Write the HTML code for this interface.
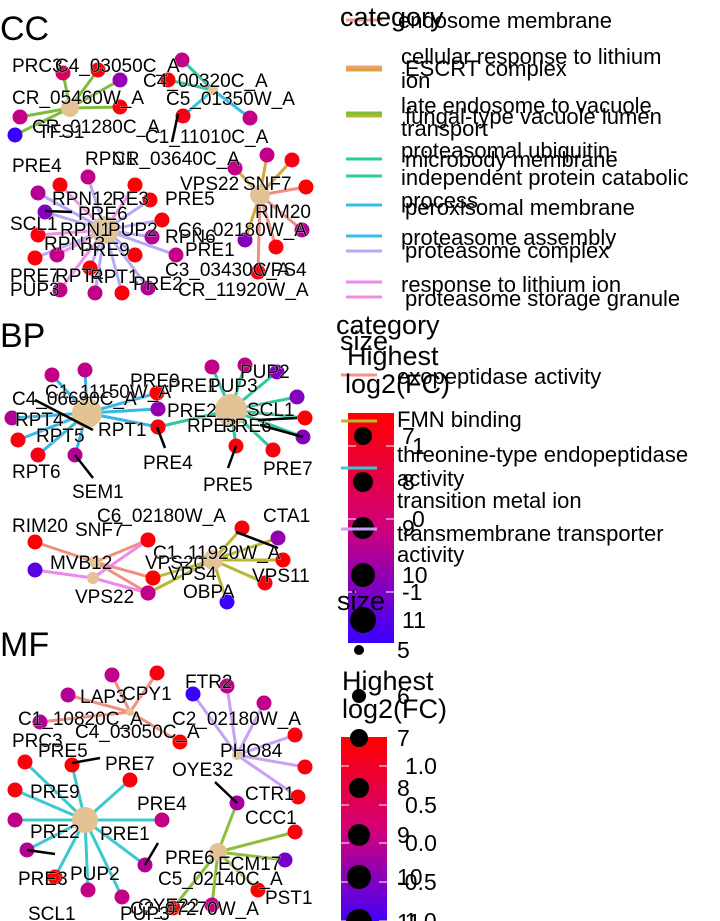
<!DOCTYPE html>
<html><head><meta charset="utf-8"><style>
html,body{margin:0;padding:0;background:#fff;}
svg{display:block;font-family:"Liberation Sans",sans-serif;}
</style></head><body>
<svg id="chart" width="720" height="921" viewBox="0 0 720 921">
<defs>
<linearGradient id="cg" x1="0" y1="0" x2="0" y2="1"><stop offset="0" stop-color="#ff0000"/><stop offset="0.5" stop-color="#d0007a"/><stop offset="1" stop-color="#3a00ff"/></linearGradient>
</defs>
</svg>
<script>
const ccHubs=[[70,108,9],[213,90,5],[260,195,10],[105,230,14]];
const ccEdges=[
[0,63,73,0.2,'#7CBE3A'],[0,120,80,-0.4,'#7CBE3A'],[0,120,107,0.9,'#7CBE3A'],[0,20,117,-0.1,'#7CBE3A'],[0,15,135,-1,'#7CBE3A'],[0,98,70,0.9,'#7CBE3A'],
[1,182,60,-0.1,'#2CCB9E'],[1,168,80,0.9,'#2CCB9E'],[1,250,118,-0.1,'#35C0E8'],[1,183,116,0.8,'#35C0E8'],
[2,267,155,-0.1,'#D4A838'],[2,292,160,0.8,'#D4A838'],[2,306,187,1,'#F08C80'],[2,235,168,-0.1,'#D4A838'],[2,302,230,-0.2,'#F08C80'],[2,245,240,-0.5,'#D4A838'],[2,276,247,0.9,'#F08C80'],[2,258,272,0.9,'#F08C80'],
[3,60,185,0.9,'#F090E8'],[3,88,177,-0.1,'#B8A8F8'],[3,135,185,1,'#F090E8'],[3,150,200,0.9,'#B8A8F8'],[3,38,193,-0.2,'#B8A8F8'],[3,45,212,-0.5,'#B8A8F8'],[3,38,235,0.9,'#F090E8'],[3,152,237,-0.2,'#B8A8F8'],[3,162,220,0.9,'#B8A8F8'],[3,176,255,-0.1,'#B8A8F8'],[3,35,258,0.9,'#B8A8F8'],[3,57,255,-0.1,'#F090E8'],[3,90,268,0.9,'#B8A8F8'],[3,135,255,0.9,'#B8A8F8'],[3,95,293,-0.1,'#B8A8F8'],[3,122,293,0.9,'#B8A8F8'],[3,148,288,-0.2,'#B8A8F8'],[3,60,290,-0.1,'#F090E8']];
const bpHubs=[[87,413,15],[231,410,16],[95,562,6],[93,578,6],[213,560,10]];
const bpEdges=[
[0,52,375,-0.1,'#35B8E8'],[0,85,370,-0.1,'#35B8E8'],[0,12,418,-0.2,'#35B8E8'],[0,18,440,0.9,'#35B8E8'],[0,38,455,0.8,'#35B8E8'],[0,75,455,-0.2,'#35B8E8'],[0,158,409,-0.4,'#35B8E8'],[0,158,427,0.9,'#35B8E8'],[0,157,393,1,'#35B8E8'],
[1,212,367,-0.1,'#30C8A0'],[1,245,365,-0.1,'#30C8A0'],[1,277,372,-0.5,'#30C8A0'],[1,297,397,-0.5,'#30C8A0'],[1,305,418,1,'#30C8A0'],[1,303,437,-0.5,'#30C8A0'],[1,273,450,0.9,'#30C8A0'],[1,236,446,0.9,'#30C8A0'],[1,158,427,0.9,'#30C8A0'],
[2,35,542,1,'#F29080'],[2,148,540,0.9,'#F29080'],[2,153,578,1,'#F29080'],[2,148,593,-0.1,'#F29080'],[3,35,570,-0.8,'#EE88EE'],[3,148,540,0.9,'#EE88EE'],[3,148,593,-0.1,'#EE88EE'],
[4,242,528,0.9,'#B8B830'],[4,278,538,-0.4,'#B8B830'],[4,283,560,1,'#B8B830'],[4,265,583,0.9,'#B8B830'],[4,227,602,-1,'#B8B830'],[4,153,578,1,'#B8B830'],[4,148,593,-0.1,'#B8B830']];
const mfHubs=[[85,820,13],[130,712,4],[237,755,5],[218,852,9]];
const mfEdges=[
[0,25,762,0.9,'#3CC8D0'],[0,15,790,0.9,'#3CC8D0'],[0,15,820,-0.1,'#3CC8D0'],[0,27,850,-0.2,'#3CC8D0'],[0,55,877,1,'#3CC8D0'],[0,88,890,-0.1,'#3CC8D0'],[0,122,897,-0.1,'#3CC8D0'],[0,145,865,-0.2,'#3CC8D0'],[0,162,820,-0.1,'#3CC8D0'],[0,130,780,0.9,'#3CC8D0'],[0,72,765,1,'#3CC8D0'],
[1,112,675,-0.1,'#F29080'],[1,157,673,0.9,'#F29080'],[1,68,695,-0.2,'#F29080'],[1,40,722,-0.2,'#F29080'],[1,180,742,1,'#F29080'],
[2,193,694,-1,'#C8A0F8'],[2,227,686,-0.1,'#C8A0F8'],[2,264,703,-0.1,'#C8A0F8'],[2,295,735,0.9,'#C8A0F8'],[2,305,767,0.9,'#C8A0F8'],[2,298,797,0.9,'#C8A0F8'],
[3,237,803,-0.3,'#8DC03A'],[3,295,832,0.9,'#8DC03A'],[3,285,860,-0.6,'#8DC03A'],[3,258,890,1,'#8DC03A'],[3,212,905,-0.1,'#8DC03A'],[3,173,908,1,'#8DC03A']];
const leaders=[[178,114,172,142],[45,211,72,212],[35,400,93,430],[157,427,165,448],[236,446,228,468],[75,455,93,478],[297,418,258,420],[303,437,260,425],[236,532,278,548],[72,763,100,758],[145,865,158,843],[27,850,55,854],[237,803,215,782]];
const ccLabels=[["PRC3",12,72],["C4_03050C_A",55,72],["CR_05460W_A",12,104],["CR_01280C_A",32,133],["TFS1",38,138],["C4_00320C_A",143,87],["C5_01350W_A",166,105],["C1_11010C_A",145,143],["PRE4",12,172],["RPN1",85,165],["CR_03640C_A",112,165],["VPS22",180,190],["SNF7",243,190],["RPN12",52,205],["RE3",112,205],["PRE5",165,205],["PRE6",78,220],["RIM20",255,218],["SCL1",10,230],["RPN1",60,236],["PUP2",108,236],["C6_02180W_A",178,236],["RPN13",44,250],["PRE9",80,256],["RPN6",165,243],["PRE1",185,256],["C3_03430C_A",165,276],["VPS4",258,276],["PRE7",10,282],["RPT4",55,282],["RPT1",90,283],["PRE2",133,290],["PUP3",10,296],["CR_11920W_A",178,296]];
const bpLabels=[["PRE9",130,387],["C1_11150W_A",45,398],["PRE1",168,392],["PUP3",208,392],["PUP2",240,378],["C4_06690C_A",12,405],["PRE2",167,417],["SCL1",247,416],["RPT4",15,426],["RPE3",187,432],["PRE6",222,432],["RPT1",98,436],["RPT5",36,442],["PRE4",143,469],["PRE7",263,475],["RPT6",12,478],["PRE5",203,491],["SEM1",72,498],["C6_02180W_A",97,522],["CTA1",263,522],["RIM20",12,532],["SNF7",75,536],["C1_11920W_A",153,559],["VPS20",145,569],["MVB12",50,569],["VPS4",168,580],["VPS11",252,582],["OBPA",183,598],["VPS22",75,603]];
const mfLabels=[["FTR2",185,688],["LAP3",80,703],["CPY1",122,700],["C1_10820C_A",18,725],["C2_02180W_A",172,725],["C4_03050C_A",75,738],["PRC3",12,747],["PRE5",38,757],["PHO84",220,757],["PRE7",105,770],["OYE32",172,776],["PRE9",30,798],["CTR1",245,800],["PRE4",137,810],["CCC1",245,824],["PRE2",30,838],["PRE1",100,840],["PRE6",165,864],["ECM17",218,870],["PUP2",70,880],["PRE3",18,885],["C5_02140C_A",158,885],["PST1",265,904],["OYE22",138,912],["C2_07270W_A",130,915],["SCL1",28,920],["PUP3",120,920]];
const ccLegend=[["endosome membrane",398,28,'#F89090',20],["cellular response to lithium",401,64,'#F0A070',67],["ion",401,88,null,0],[" ESCRT complex",405,76,'#D4A838',70],["late endosome to vacuole",401,113,'#B8B830',116],["transport",401,136,null,0],[" fungal-type vacuole lumen",405,124,'#7CBE3A',113],["proteasomal ubiquitin-",401,158,'#2CCB9E',159],[" microbody membrane",405,167,null,0],["independent protein catabolic",401,185,'#2CCB9E',176],["process",401,208,null,0],[" peroxisomal membrane",405,215,'#35C0E8',205],["proteasome assembly",401,245,'#35C0E8',236],[" proteasome complex",405,258,'#B8A8F8',251],["response to lithium ion",401,292,'#EE88EE',282],[" proteasome storage granule",405,306,'#F48CE0',297]];
const bpLegend=[["exopeptidase activity",397,384,'#F89090',375],["FMN binding",397,427,'#B8B830',421],["threonine-type endopeptidase",397,462,'#3CC8D0',468],["activity",397,486,null,0],["transition metal ion",397,508,null,0],["transmembrane transporter",397,541,'#C8A0F8',529],["activity",397,562,null,0]];
const bpSizeVals=["7","8","9","10","11"];
const bpSizeY=[436,482,528,575,620];
const bpSizeR=[9,10,11,12,13];
const bpColorTicks=["1","0","-1"];
const bpColorTickY=[446,519,592];
const mfSizeVals=["5","6","7","8","9","10","11"];
const mfSizeY=[650,696,738,788,835,877,922];
const mfSizeR=[5,7,9,10,11,12,13];
const mfColorTicks=["1.0","0.5","0.0","-0.5","-1.0"];
const mfColorTickY=[766,805,843,882,921];

const svg=document.getElementById('chart');
const NS='http://www.w3.org/2000/svg';
function mk(tag,attrs,parent){const e=document.createElementNS(NS,tag);for(const k in attrs)e.setAttribute(k,attrs[k]);(parent||svg).appendChild(e);return e;}
function col(v){const t=(v+1)/2;let r,g,b;if(t>0.5){const u=(t-0.5)*2;r=Math.round(208+47*u);g=0;b=Math.round(122-122*u);}else{const u=t*2;r=Math.round(58+150*u);g=0;b=Math.round(255-133*u);}return `rgb(${r},${g},${b})`;}
function panel(name,hubs,edges,labels){
  const g=mk('g',{});
  
  
  edges.forEach(e=>{const h=hubs[e[0]];const l=mk('line',{x1:h[0],y1:h[1],x2:e[1],y2:e[2],stroke:e[4],'stroke-width':3},g);
    
    });
  edges.forEach(e=>{const c=mk('circle',{cx:e[1],cy:e[2],r:7.5,fill:col(e[3])},g);
    
    });
  hubs.forEach(h=>{const c=mk('circle',{cx:h[0],cy:h[1],r:h[2],fill:'#E3C294'},g);
    
    });
  labels.forEach(l=>{const t=mk('text',{x:l[1],y:l[2],'font-size':19,fill:'#000',stroke:'#fff','stroke-width':0.6,'paint-order':'stroke'},g);t.textContent=l[0];
    
    });
}
function title(txt,x,y,name){const t=mk('text',{x:x,y:y,'font-size':34});t.textContent=txt;
  
  }
title('CC',0,40,'cc-panel-title');title('BP',0,347,'bp-panel-title');title('MF',0,656,'mf-panel-title');
panel('cc',ccHubs,ccEdges,ccLabels);panel('bp',bpHubs,bpEdges,bpLabels);panel('mf',mfHubs,mfEdges,mfLabels);
leaders.forEach(s=>{const l=mk('line',{x1:s[0],y1:s[1],x2:s[2],y2:s[3],stroke:'#000','stroke-width':2.5});
  
  });

const cb1=mk('rect',{x:348,y:413,width:46,height:230,fill:'url(#cg)'});


const cb2=mk('rect',{x:341,y:737,width:46,height:190,fill:'url(#cg)'});


bpColorTickY.forEach((y,i)=>{mk('line',{x1:348,y1:y,x2:356,y2:y,stroke:'#fff'});mk('line',{x1:386,y1:y,x2:394,y2:y,stroke:'#fff'});
  const t=mk('text',{x:402+(bpColorTicks[i].length>1?0:10),y:y+8,'font-size':23});t.textContent=bpColorTicks[i];
  
  });
mfColorTickY.forEach((y,i)=>{mk('line',{x1:341,y1:y,x2:349,y2:y,stroke:'#fff'});mk('line',{x1:379,y1:y,x2:387,y2:y,stroke:'#fff'});
  const t=mk('text',{x:405-(mfColorTicks[i].length>3?8:0),y:y+8,'font-size':23});t.textContent=mfColorTicks[i];
  
  });
bpSizeVals.forEach((v,i)=>{mk('circle',{cx:363,cy:bpSizeY[i],r:bpSizeR[i],fill:'#000'});
  const t=mk('text',{x:402,y:bpSizeY[i]+8,'font-size':23});t.textContent=v;
  
  });
mfSizeVals.forEach((v,i)=>{mk('circle',{cx:359,cy:mfSizeY[i],r:mfSizeR[i],fill:'#000'});
  const t=mk('text',{x:397,y:mfSizeY[i]+8,'font-size':23});t.textContent=v;
  
  });
function legend(items,lx){items.forEach(it=>{if(it[3]){const l=mk('line',{x1:lx,y1:it[4],x2:lx+36,y2:it[4],stroke:it[3],'stroke-width':3});
    
    }
  const t=mk('text',{x:it[1],y:it[2],'font-size':22,'xml:space':'preserve'});t.textContent=it[0];
  
  });}
legend(ccLegend,346);legend(bpLegend,341);
const heads=[["category",340,26,27],["category",336,334,27],["size",340,350,27],["Highest",347,365,27],["log2(FC)",345,393,27],["size",337,610,27],["Highest",342,690,27],["log2(FC)",342,718,27]];
heads.forEach(h=>{const t=mk('text',{x:h[1],y:h[2],'font-size':h[3]});t.textContent=h[0];
  
  });
</script>
</body></html>
